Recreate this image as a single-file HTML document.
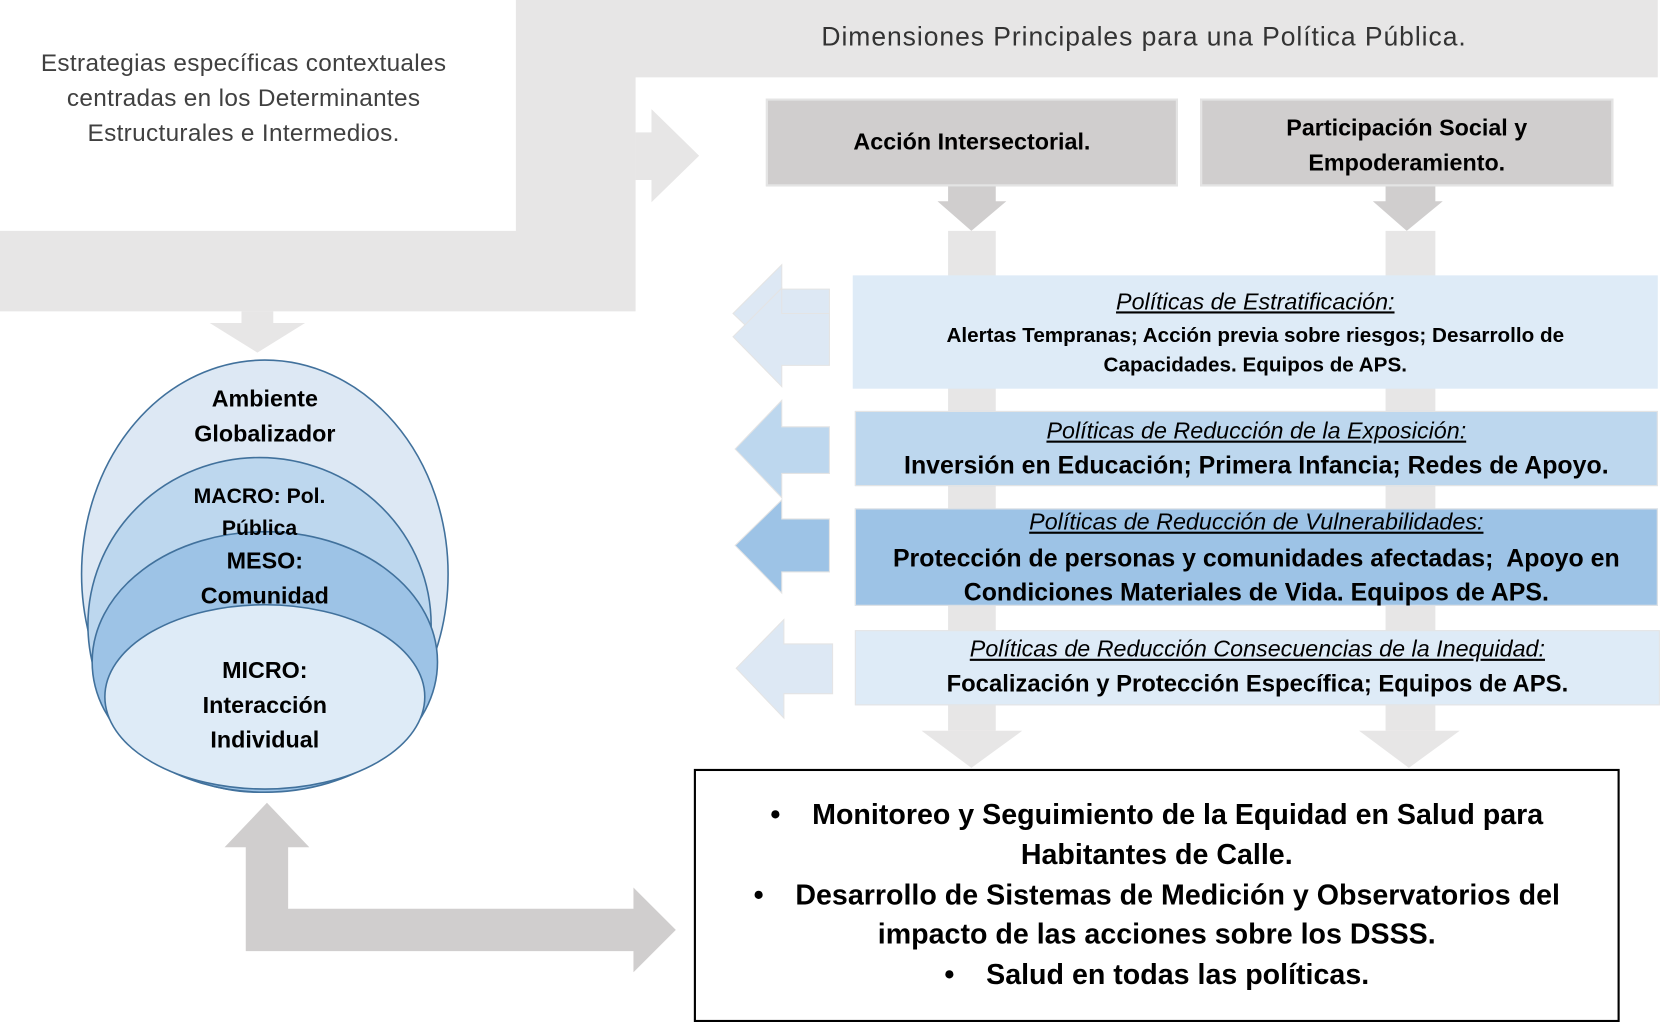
<!DOCTYPE html>
<html><head><meta charset="utf-8"><style>
html,body{margin:0;padding:0;background:#fff;width:1661px;height:1022px;overflow:hidden}
#w{position:relative;width:1568px;height:965px;transform:scale(1.0593,1.0591);transform-origin:0 0;font-family:"Liberation Sans",sans-serif}
.t{position:absolute;text-align:center;white-space:nowrap}
.b{font-weight:bold}
.bx{position:absolute;box-sizing:border-box}
</style></head><body><div id="w">
<svg width="1568" height="965" style="position:absolute;left:0;top:0">
<path d="M487 0H1565V73H600V294H0V218H487Z" fill="#e7e6e6"/>
<polygon points="600,125 615,125 615,103 660,147 615,191 615,170 600,170" fill="#e7e6e6"/>
<polygon points="228,294 258,294 258,305 288,305 243,333 198,305 228,305" fill="#e7e6e6"/>
<polygon points="895,176 940,176 940,190 950,190 917,218 885,190 895,190" fill="#d0cece"/>
<polygon points="1308,176 1355,176 1355,190 1362,190 1328,218 1296,190 1308,190" fill="#d0cece"/>
<rect x="895" y="218" width="45" height="472" fill="#e7e6e6"/>
<rect x="1308" y="218" width="47" height="472" fill="#e7e6e6"/>
<polygon points="870,690 965,690 917,725" fill="#e7e6e6"/>
<polygon points="1283,690 1378,690 1330,725" fill="#e7e6e6"/>
<g stroke="#e4e4e4" stroke-width="1">
<polygon points="783,273 738,273 738,250 692,296 738,340 738,320 783,320" fill="#dde8f4"/>
<polygon points="783,296 738,296 738,272 692,318 738,365 738,345 783,345" fill="#dde8f4"/>
<polygon points="783,403 738,403 738,378 694,424 738,470 738,447 783,447" fill="#bdd7ee"/>
<polygon points="783,490 738,490 738,472 694,515 738,560 738,540 783,540" fill="#9dc3e6"/>
<polygon points="786,608 740,608 740,585 695,631 740,678 740,655 786,655" fill="#dde8f4"/>
</g>
<ellipse cx="250" cy="542" rx="173" ry="202" fill="#dde8f4" stroke="#41719c" stroke-width="1.5"/>
<ellipse cx="245" cy="590" rx="162" ry="158" fill="#bdd7ee" stroke="#41719c" stroke-width="1.5"/>
<ellipse cx="250" cy="625" rx="163" ry="123" fill="#9dc3e6" stroke="#41719c" stroke-width="1.5"/>
<ellipse cx="250" cy="658" rx="151" ry="87" fill="#deebf7" stroke="#41719c" stroke-width="1.5"/>
<polygon points="252,758 292,800 272,800 272,858 598,858 598,838 638,878 598,918 598,898 232,898 232,800 212,800" fill="#d0cece"/>
</svg>
<div class="t" style="left:0;width:460px;top:43px;font-size:23px;line-height:33px;color:#404040;letter-spacing:0.3px">Estrategias específicas contextuales<br>centradas en los Determinantes<br>Estructurales e Intermedios.</div>
<div class="t" style="left:700px;width:760px;top:21px;font-size:25px;color:#333;letter-spacing:0.9px">Dimensiones Principales para una Política Pública.</div>
<div class="bx" style="left:723px;top:93px;width:389px;height:83px;background:#d0cece;border:2px solid #e4e4e4"></div>
<div class="t b" style="left:723px;width:389px;top:121px;font-size:22px">Acción Intersectorial.</div>
<div class="bx" style="left:1133px;top:93px;width:390px;height:83px;background:#d0cece;border:2px solid #e4e4e4"></div>
<div class="t b" style="left:1133px;width:390px;top:104px;font-size:22px;line-height:33px">Participación Social y<br>Empoderamiento.</div>
<div class="bx" style="left:805px;top:260px;width:760px;height:107px;background:#deebf7"></div>
<div class="t" style="left:805px;width:760px;top:272px;font-size:22px;font-style:italic;text-decoration:underline">Políticas de Estratificación:</div>
<div class="t b" style="left:805px;width:760px;top:303px;font-size:19.5px;line-height:28px">Alertas Tempranas; Acción previa sobre riesgos; Desarrollo de<br>Capacidades. Equipos de APS.</div>
<div class="bx" style="left:807px;top:388px;width:758px;height:71px;background:#bdd7ee;border:1px solid #e4e4e4"></div>
<div class="t" style="left:807px;width:758px;top:394px;font-size:22px;font-style:italic;text-decoration:underline">Políticas de Reducción de la Exposición:</div>
<div class="t b" style="left:807px;width:758px;top:426px;font-size:23.5px">Inversión en Educación; Primera Infancia; Redes de Apoyo.</div>
<div class="bx" style="left:807px;top:480px;width:758px;height:92px;background:#9dc3e6;border:1px solid #e4e4e4"></div>
<div class="t" style="left:807px;width:758px;top:480px;font-size:22px;font-style:italic;text-decoration:underline">Políticas de Reducción de Vulnerabilidades:</div>
<div class="t b" style="left:807px;width:758px;top:511px;font-size:23.5px;line-height:32px">Protección de personas y comunidades afectadas;&nbsp; Apoyo en<br>Condiciones Materiales de Vida. Equipos de APS.</div>
<div class="bx" style="left:807px;top:595px;width:760px;height:71px;background:#deebf7;border:1px solid #e4e4e4"></div>
<div class="t" style="left:807px;width:760px;top:600px;font-size:22px;font-style:italic;text-decoration:underline">Políticas de Reducción Consecuencias de la Inequidad:</div>
<div class="t b" style="left:807px;width:760px;top:633px;font-size:22.5px">Focalización y Protección Específica; Equipos de APS.</div>
<div class="t b" style="left:150px;width:200px;top:360px;font-size:22px;line-height:33px">Ambiente<br>Globalizador</div>
<div class="t b" style="left:145px;width:200px;top:454px;font-size:20px;line-height:30px">MACRO: Pol.<br>Pública</div>
<div class="t b" style="left:150px;width:200px;top:513px;font-size:22px;line-height:33px">MESO:<br>Comunidad</div>
<div class="t b" style="left:150px;width:200px;top:616px;font-size:22px;line-height:33px">MICRO:<br>Interacción<br>Individual</div>
<div class="bx" style="left:655px;top:726px;width:874px;height:239px;border:2px solid #000;background:#fff"></div>
<div class="t b" style="left:655px;width:874px;top:751px;font-size:27px;line-height:37.8px">•&nbsp;&nbsp;&nbsp; Monitoreo y Seguimiento de la Equidad en Salud para<br>Habitantes de Calle.<br>•&nbsp;&nbsp;&nbsp; Desarrollo de Sistemas de Medición y Observatorios del<br>impacto de las acciones sobre los DSSS.<br>•&nbsp;&nbsp;&nbsp; Salud en todas las políticas.</div>
</div></body></html>
